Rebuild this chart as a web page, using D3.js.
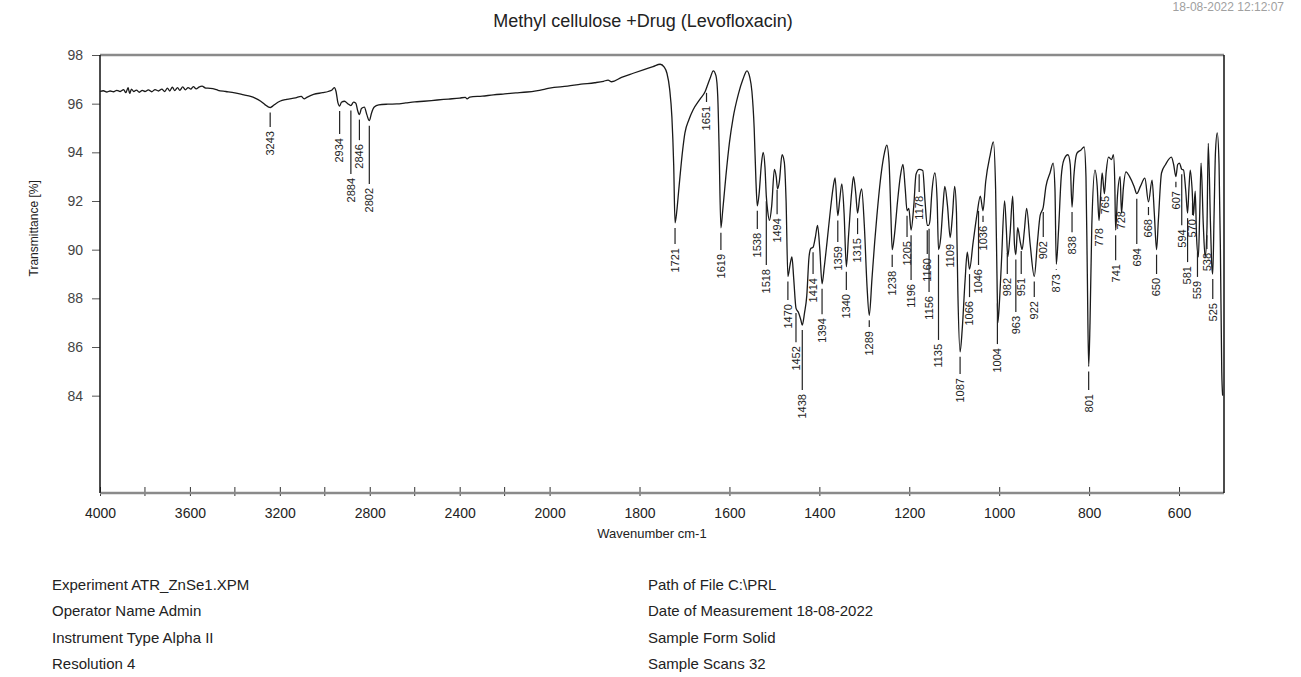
<!DOCTYPE html>
<html>
<head>
<meta charset="utf-8">
<script src="https://cdn.jsdelivr.net/npm/d3@7"></script>
<style>
body { margin: 0; background: #fff; }
svg text { font-family: "Liberation Sans", Arial, sans-serif; fill: #222; }
</style>
</head>
<body>
<script>
const WIDTH = 1301;
const HEIGHT = 677;
const LEFT = 100, RIGHT = 1224, TOP = 55, BOTTOM = 493;

// spectrum (wavenumber cm-1, transmittance %)
var wavenumbers = [4000,3985,3970,3955,3940,3925,3910,3895,3885,3875,3868,3860,3850,3838,3825,3812,3800,3785,3770,3755,3740,3725,3712,3700,3690,3678,3668,3655,3645,3632,3620,3608,3596,3585,3572,3560,3546,3530,3510,3490,3475,3440,3400,3360,3330,3310,3285,3265,3250,3243,3232,3218,3200,3170,3130,3105,3092,3080,3050,3010,2985,2968,2958,2950,2942,2934,2926,2912,2898,2884,2872,2862,2854,2846,2837,2824,2813,2802,2792,2780,2760,2720,2680,2640,2600,2560,2500,2450,2400,2375,2367,2355,2300,2250,2200,2150,2100,2060,2030,2000,1960,1930,1900,1880,1870,1862,1840,1814,1790,1770,1754,1745,1739,1733,1728,1724,1721,1717,1713,1710,1704,1699,1690,1681,1665,1654,1648,1642,1636,1630,1626,1623,1619,1615,1611,1608,1600,1592,1580,1570,1561,1555,1550,1545,1541,1538,1534,1529,1525,1521,1518,1515,1511,1506,1500,1496,1493,1489,1483,1478,1474,1470,1465,1461,1457,1452,1446,1441,1438,1433,1428,1423,1419,1414,1409,1404,1399,1394,1389,1383,1375,1369,1365,1359,1355,1350,1345,1340,1335,1328,1324,1319,1315,1310,1306,1300,1294,1289,1283,1277,1272,1262,1255,1250,1245,1241,1238,1233,1226,1220,1214,1209,1205,1201,1196,1190,1185,1178,1170,1165,1160,1157,1154,1150,1143,1138,1135,1130,1125,1121,1115,1109,1104,1099,1095,1092,1087,1082,1076,1071,1066,1058,1049,1042,1036,1030,1020,1013,1008,1005,1003,999,995,988,984,981,976,970,966,963,959,953,949,944,939,931,922,915,909,902,896,887,880,876,873,868,862,856,847,842,838,834,827,818,811,807,804,801,798,794,787,782,778,774,771,766,762,757,750,746,743,741,737,731,728,724,718,710,700,694,686,676,668,660,655,650,646,639,630,617,612,607,603,599,594,590,585,581,578,575,571,568,564,561,557,554,551,546,542,538,535,530,527,525,522,519,515,511,508,505,503];
var transmittance = [96.50,96.53,96.48,96.52,96.49,96.55,96.50,96.58,96.45,96.66,96.42,96.60,96.50,96.56,96.47,96.55,96.50,96.57,96.49,96.58,96.52,96.60,96.50,96.64,96.52,96.68,96.54,96.66,96.55,96.69,96.57,96.66,96.60,96.70,96.61,96.68,96.72,96.64,96.63,96.60,96.55,96.50,96.44,96.36,96.30,96.23,96.10,95.95,95.86,95.84,95.90,96.00,96.10,96.18,96.24,96.30,96.20,96.26,96.38,96.45,96.50,96.56,96.66,96.50,96.05,95.90,96.06,96.10,96.00,95.92,96.06,96.02,95.72,95.55,95.80,95.86,95.55,95.30,95.62,95.86,95.95,95.98,95.99,96.03,96.07,96.10,96.15,96.19,96.23,96.26,96.20,96.27,96.31,96.36,96.40,96.44,96.48,96.53,96.58,96.64,96.72,96.80,96.86,96.92,96.97,96.90,97.08,97.25,97.40,97.52,97.62,97.50,97.25,96.60,95.45,93.50,91.10,91.60,92.40,93.00,94.10,94.80,95.35,95.74,96.20,96.50,96.80,97.10,97.35,97.15,96.30,94.20,90.90,91.60,92.40,93.00,94.40,95.40,96.40,97.00,97.35,97.10,96.50,95.00,92.80,91.80,92.30,93.50,94.00,93.40,92.20,91.60,91.20,91.80,93.30,93.00,92.50,92.80,93.90,93.60,92.00,88.90,89.40,89.70,88.80,87.60,87.40,87.10,86.90,87.40,88.10,89.70,90.05,90.10,90.50,91.00,90.00,88.60,89.30,90.30,91.70,92.60,92.95,91.40,92.00,92.70,91.50,89.30,90.60,92.40,93.00,92.30,91.50,92.20,92.50,91.00,88.50,87.30,88.80,90.30,91.40,93.20,94.00,94.30,93.60,91.50,90.00,90.60,92.00,93.00,93.50,92.50,91.60,91.70,90.80,91.80,93.10,93.30,93.25,92.00,91.00,91.00,91.20,92.30,93.15,92.00,90.00,90.50,91.80,92.60,91.80,90.50,91.40,92.60,91.50,88.30,85.80,86.80,88.70,89.90,89.20,90.30,91.50,92.20,91.60,92.80,93.90,94.43,92.50,89.00,87.00,88.00,89.50,92.00,90.80,89.70,90.60,92.20,90.20,89.80,90.90,90.30,90.00,90.80,91.70,90.20,88.90,90.30,91.40,91.75,92.60,93.15,93.56,92.50,89.40,90.80,93.00,93.70,93.90,93.50,91.75,93.00,93.97,94.10,94.22,93.00,89.00,85.20,87.00,91.00,93.27,92.60,91.20,92.40,93.15,92.30,93.20,93.80,93.70,93.90,92.80,90.80,92.20,93.00,91.50,92.50,93.20,93.00,92.60,92.30,92.60,92.94,91.96,92.86,91.50,90.00,91.20,93.15,93.50,93.80,93.50,93.00,93.50,93.56,93.30,93.27,92.40,91.50,92.50,93.27,92.50,91.40,92.40,90.50,89.70,91.50,93.56,91.00,89.70,90.80,94.37,91.00,89.30,89.00,91.50,94.00,94.80,93.50,90.00,85.00,84.00];

// picked peaks and the %T where each leader line ends
var peakPositions = [3243,2934,2884,2846,2802,1721,1651,1619,1538,1518,1494,1470,1452,1438,1414,1394,1359,1340,1315,1289,1238,1205,1196,1178,1160,1156,1135,1109,1087,1066,1046,1036,1004,982,963,951,922,902,873,838,801,778,765,741,728,694,668,650,607,594,581,570,559,538,525];
var peakLabelLevels = [95.04,94.75,93.11,94.5,92.7,90.23,96.07,89.99,90.85,89.37,91.46,87.93,86.2,84.23,89.0,87.35,90.31,88.34,90.64,86.82,89.29,90.52,88.75,92.37,89.82,88.26,86.29,90.4,84.89,88.05,89.37,91.14,86.12,89.0,87.44,89.0,88.05,90.52,89.16,90.72,84.23,91.05,92.37,89.57,91.75,90.23,91.42,89.0,92.57,91.0,89.49,91.42,88.88,90.03,87.97];

var xTickValues = [4000,3600,3200,2800,2400,2000,1800,1600,1400,1200,1000,800,600];
var xMinorTicks = [3800,3400,3000,2600,2200];
var yTickValues = [84,86,88,90,92,94,96,98];

var infoLeft = ['Experiment ATR_ZnSe1.XPM','Operator Name Admin','Instrument Type Alpha II','Resolution 4'];
var infoRight = ['Path of File C:\\PRL','Date of Measurement 18-08-2022','Sample Form Solid','Sample Scans 32'];

var svg = d3.select('body').append('svg')
    .attr('width', WIDTH)
    .attr('height', HEIGHT);

// OPUS style: the region above 2000 cm-1 is compressed by a factor 2
var xScale = d3.scaleLinear()
    .domain([4000, 2000, 500])
    .range([LEFT, LEFT + (RIGHT - LEFT) * 0.4, RIGHT]);
var yScale = d3.scaleLinear()
    .domain([80, 98])
    .range([BOTTOM, TOP]);

svg.append('text')
    .attr('x', 1284).attr('y', 11)
    .attr('text-anchor', 'end')
    .attr('font-size', 12)
    .style('fill', '#a0a0a0')
    .text('18-08-2022 12:12:07');

svg.append('text')
    .attr('x', 643).attr('y', 27)
    .attr('text-anchor', 'middle')
    .attr('font-size', 18)
    .text('Methyl cellulose +Drug (Levofloxacin)');

// axes
var yAxis = d3.axisLeft(yScale).tickValues(yTickValues).tickSize(8).tickPadding(9);
var gy = svg.append('g')
    .attr('transform', 'translate(' + LEFT + ',0)')
    .call(yAxis);
gy.select('.domain').remove();
gy.selectAll('line').attr('stroke', '#555');
gy.selectAll('text').attr('font-size', 14).style('fill', '#444');

var xAxis = d3.axisBottom(xScale)
    .tickValues(xTickValues)
    .tickFormat(d3.format('d'))
    .tickSize(-7)
    .tickPadding(15);
var gx = svg.append('g')
    .attr('transform', 'translate(0,' + BOTTOM + ')')
    .call(xAxis);
gx.select('.domain').remove();
gx.selectAll('line').attr('stroke', '#333').attr('y2', -6).attr('y1', 3);
gx.selectAll('text').attr('font-size', 14).style('fill', '#222');

svg.append('g').selectAll('line')
    .data(xMinorTicks)
    .enter().append('line')
    .attr('x1', function (d) { return xScale(d); })
    .attr('x2', function (d) { return xScale(d); })
    .attr('y1', BOTTOM - 6)
    .attr('y2', BOTTOM + 3)
    .attr('stroke', '#333');

// frame
svg.append('line').attr('x1', LEFT).attr('x2', RIGHT).attr('y1', TOP).attr('y2', TOP)
    .attr('stroke', '#8a8a8a').attr('stroke-width', 2.5);
svg.append('line').attr('x1', LEFT).attr('x2', RIGHT).attr('y1', BOTTOM).attr('y2', BOTTOM)
    .attr('stroke', '#8a8a8a').attr('stroke-width', 2.5);
svg.append('line').attr('x1', LEFT).attr('x2', LEFT).attr('y1', TOP).attr('y2', BOTTOM)
    .attr('stroke', '#111').attr('stroke-width', 1.5);
svg.append('line').attr('x1', RIGHT).attr('x2', RIGHT).attr('y1', TOP).attr('y2', BOTTOM)
    .attr('stroke', '#111').attr('stroke-width', 1.5);

svg.append('text')
    .attr('transform', 'translate(38,' + (TOP + BOTTOM) / 2.4 + ') rotate(-90)')
    .attr('text-anchor', 'middle')
    .attr('font-size', 12)
    .text('Transmittance [%]');

svg.append('text')
    .attr('x', 652).attr('y', 538)
    .attr('text-anchor', 'middle')
    .attr('font-size', 13)
    .text('Wavenumber cm-1');

// spectrum
var spectrum = wavenumbers.map(function (w, i) { return [w, transmittance[i]]; });
var line = d3.line()
    .x(function (d) { return xScale(d[0]); })
    .y(function (d) { return yScale(d[1]); })
    .curve(d3.curveMonotoneX);

svg.append('path')
    .attr('d', line(spectrum))
    .attr('fill', 'none')
    .attr('stroke', '#1a1a1a')
    .attr('stroke-width', 1.3);

function valueAt(w) {
    for (var i = 1; i < spectrum.length; i++) {
        if (spectrum[i][0] <= w) {
            var a = spectrum[i - 1], b = spectrum[i];
            var t = (a[0] - w) / (a[0] - b[0]);
            return a[1] + (b[1] - a[1]) * t;
        }
    }
    return spectrum[spectrum.length - 1][1];
}

// peak labels, vertical text reading upwards like the axis title
var peaks = svg.append('g').selectAll('g')
    .data(peakPositions)
    .enter().append('g');

peaks.append('line')
    .attr('x1', function (d) { return xScale(d); })
    .attr('x2', function (d) { return xScale(d); })
    .attr('y1', function (d) { return yScale(valueAt(d)) + 5; })
    .attr('y2', function (d, i) {
        var y0 = yScale(valueAt(d)) + 5;
        return Math.max(y0, yScale(peakLabelLevels[i]));
    })
    .attr('stroke', '#222')
    .attr('stroke-width', 1.2);

peaks.append('text')
    .attr('transform', function (d, i) {
        return 'translate(' + xScale(d) + ',' + (yScale(peakLabelLevels[i]) + 4) + ') rotate(-90)';
    })
    .attr('text-anchor', 'end')
    .attr('dy', '0.35em')
    .attr('font-size', 11)
    .text(function (d) { return d; });

// measurement info
svg.append('g').selectAll('text')
    .data(infoLeft)
    .enter().append('text')
    .attr('x', 52)
    .attr('y', function (d, i) { return 590 + i * 26.3; })
    .attr('font-size', 15)
    .text(function (d) { return d; });

svg.append('g').selectAll('text')
    .data(infoRight)
    .enter().append('text')
    .attr('x', 648)
    .attr('y', function (d, i) { return 590 + i * 26.3; })
    .attr('font-size', 15)
    .text(function (d) { return d; });
</script>
</body>
</html>
